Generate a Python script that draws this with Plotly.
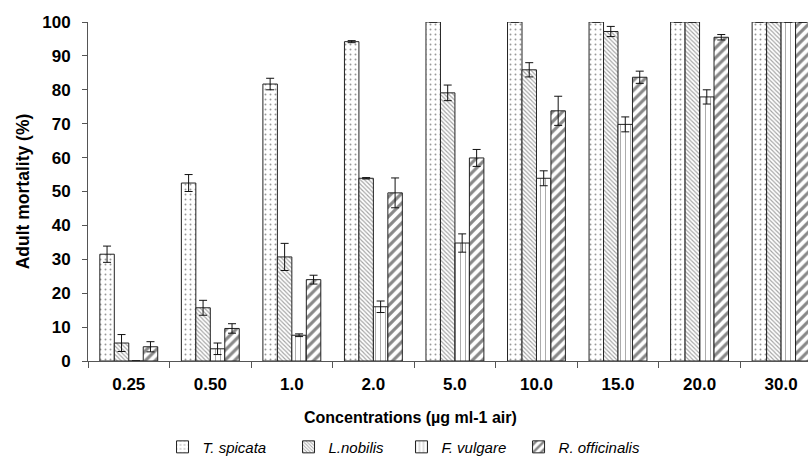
import plotly.graph_objects as go

categories = ["0.25", "0.50", "1.0", "2.0", "5.0", "10.0", "15.0", "20.0", "30.0"]
series_names = ["T. spicata", "L.nobilis", "F. vulgare", "R. officinalis"]

t_spicata = [31.5, 52.5, 81.7, 94.2, 100, 100, 100, 100, 100]
t_spicata_err = [2.4, 2.5, 1.7, 0.3, 0, 0, 0, 0, 0]
l_nobilis = [5.3, 15.7, 30.7, 53.9, 79.1, 85.9, 97.2, 100, 100]
l_nobilis_err = [2.5, 2.2, 4.0, 0.2, 2.3, 2.1, 1.5, 0, 0]
f_vulgare = [0, 3.6, 7.6, 16.0, 34.8, 53.9, 69.8, 77.9, 100]
f_vulgare_err = [None, 1.7, 0.4, 1.7, 2.7, 2.2, 2.2, 2.1, 0]
r_officinalis = [4.2, 9.6, 24.0, 49.6, 59.9, 73.8, 83.7, 95.5, 100]
r_officinalis_err = [1.5, 1.4, 1.3, 4.4, 2.5, 4.3, 1.8, 0.8, 0]

x_title = "Concentrations (µg ml-1 air)"
y_title = "Adult mortality (%)"

values = [t_spicata, l_nobilis, f_vulgare, r_officinalis]
errors = [t_spicata_err, l_nobilis_err, f_vulgare_err, r_officinalis_err]
patterns = [
    dict(shape=".", size=5, solidity=0.12, fgcolor="#333333", bgcolor="white"),
    dict(shape="\\", size=3, solidity=0.38, fgcolor="#4a4a4a", bgcolor="white"),
    dict(shape="|", size=5, solidity=0.15, fgcolor="#222222", bgcolor="white"),
    dict(shape="/", size=7, solidity=0.45, fgcolor="#111111", bgcolor="white"),
]
legend_ids = ["legend", "legend2", "legend3", "legend4"]
legend_x = [0.1035, 0.2785, 0.4354, 0.598]

fig = go.Figure()
for name, vals, errs, pat, lid in zip(series_names, values, errors, patterns, legend_ids):
    fig.add_trace(go.Bar(
        name=name, x=categories, y=vals, legend=lid,
        marker=dict(color="white", pattern=pat,
                    line=dict(color="#222222", width=1)),
        error_y=dict(type="data", array=errs, visible=True,
                     color="#111111", thickness=1, width=4),
    ))

legend_common = dict(orientation="h", xanchor="left", y=-0.254, yanchor="middle",
                     font=dict(size=15, style="italic"), itemwidth=30,
                     bgcolor="rgba(0,0,0,0)")
legends = {lid: dict(legend_common, x=lx) for lid, lx in zip(legend_ids, legend_x)}

fig.update_layout(
    width=808, height=463,
    margin=dict(l=88, r=0, t=22, b=102, autoexpand=False),
    paper_bgcolor="white", plot_bgcolor="white",
    barmode="group", bargap=0.29, bargroupgap=0,
    font=dict(family="Liberation Sans, Arial, sans-serif", color="black"),
    showlegend=True,
    xaxis=dict(
        range=[-0.5, 8.33], showline=True, linecolor="#555555", linewidth=1,
        ticks="outside", tickson="boundaries", ticklen=6, tickcolor="#555555",
        tickfont=dict(size=17, weight="bold"), ticklabelstandoff=8,
        automargin=False, showgrid=False,
    ),
    yaxis=dict(
        range=[0, 100], dtick=10, showline=True, linecolor="#555555", linewidth=1,
        ticks="outside", ticklen=5, tickcolor="#555555", ticklabelstandoff=8,
        tickfont=dict(size=17, weight="bold"), showgrid=False, zeroline=False,
        automargin=False,
        title=dict(text=y_title, font=dict(size=17.5, weight="bold"), standoff=8),
    ),
    annotations=[dict(
        text=x_title, xref="paper", yref="paper", x=0.4486, y=-0.168,
        xanchor="center", yanchor="middle", showarrow=False,
        font=dict(size=16, weight="bold"),
    )],
    **legends,
)

fig.write_html(
    "out.html",
    config={"displayModeBar": False},
    post_script="document.body.style.margin='0';document.body.style.overflow='hidden';",
)
